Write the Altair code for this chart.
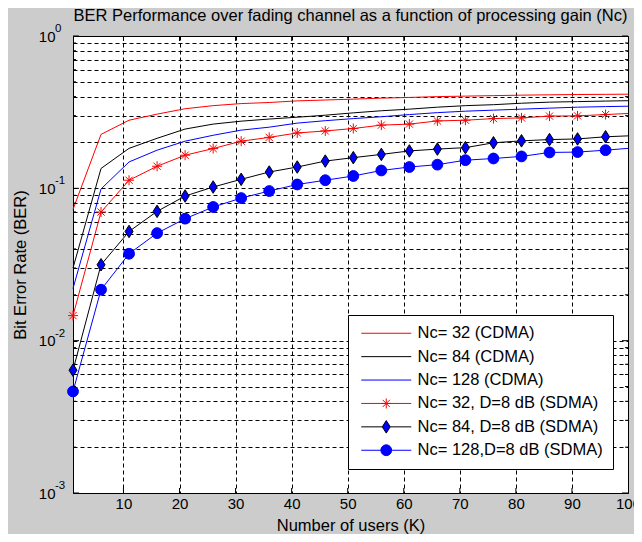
import altair as alt
import pandas as pd

# ---- data ----
K = [1, 6, 11, 16, 21, 26, 31, 36, 41, 46, 51, 56, 61, 66, 71, 76, 81, 86, 91, 96, 100]

series_names = [
    "Nc= 32 (CDMA)",
    "Nc= 84 (CDMA)",
    "Nc= 128 (CDMA)",
    "Nc= 32, D=8 dB (SDMA)",
    "Nc= 84, D=8 dB (SDMA)",
    "Nc= 128,D=8 dB (SDMA)",
]

ber_nc32_cdma = [0.0727, 0.226, 0.280, 0.307, 0.333, 0.349, 0.360, 0.366, 0.375, 0.380,
                 0.385, 0.391, 0.395, 0.400, 0.403, 0.406, 0.409, 0.411, 0.413, 0.414, 0.415]
ber_nc84_cdma = [0.030, 0.135, 0.183, 0.213, 0.245, 0.264, 0.276, 0.285, 0.293, 0.302,
                 0.313, 0.323, 0.331, 0.341, 0.349, 0.354, 0.362, 0.368, 0.371, 0.374, 0.376]
ber_nc128_cdma = [0.022, 0.099, 0.149, 0.178, 0.204, 0.223, 0.241, 0.252, 0.268, 0.278,
                  0.287, 0.295, 0.305, 0.314, 0.321, 0.326, 0.331, 0.336, 0.341, 0.344, 0.346]
ber_nc32_sdma = [0.0146, 0.0699, 0.113, 0.1396, 0.165, 0.1824, 0.204, 0.216, 0.231, 0.238,
                 0.247, 0.260, 0.264, 0.277, 0.280, 0.287, 0.290, 0.298, 0.299, 0.305, 0.310]
ber_nc84_sdma = [0.0064, 0.0315, 0.0521, 0.0706, 0.089, 0.102, 0.1146, 0.128, 0.138, 0.151,
                 0.159, 0.167, 0.176, 0.181, 0.185, 0.199, 0.205, 0.209, 0.211, 0.218, 0.221]
ber_nc128_sdma = [0.00464, 0.0216, 0.0372, 0.0508, 0.0632, 0.0754, 0.0863, 0.096, 0.106, 0.113,
                  0.1205, 0.131, 0.138, 0.143, 0.153, 0.157, 0.162, 0.172, 0.173, 0.178, 0.183]

all_series = [ber_nc32_cdma, ber_nc84_cdma, ber_nc128_cdma,
              ber_nc32_sdma, ber_nc84_sdma, ber_nc128_sdma]

line_colors = ["#ff0000", "#000000", "#0000ff", "#ff0000", "#000000", "#0000ff"]
legend_fills = ["transparent", "transparent", "transparent", "transparent", "#0000ff", "#0000ff"]

x_tick_values = [10, 20, 30, 40, 50, 60, 70, 80, 90, 100]
x_tick_marks = [10, 20, 30, 40, 50, 60, 70, 80, 90]
y_decades = [0.001, 0.01, 0.1, 1]
y_exponents = ["-3", "-2", "-1", "0"]
y_minor = [round(m * d, 6) for d in [0.001, 0.01, 0.1] for m in range(2, 10)]
y_grid = sorted(y_decades + y_minor)

# marker shapes (unit ~ 5px at size 100)
STAR = "M0,-1L0,1M-1,0L1,0M-0.72,-0.72L0.72,0.72M-0.72,0.72L0.72,-0.72"
DIAMOND = "M0,-1.25L0.8,0L0,1.25L-0.8,0Z"
CIRCLE = "M1.08,0A1.08,1.08,0,1,1,-1.08,0A1.08,1.08,0,1,1,1.08,0Z"
LINE = "M-5,0L5,0"
legend_paths = [
    LINE, LINE, LINE,
    LINE + STAR,
    "M-5,0L-0.8,0M0.8,0L5,0" + DIAMOND,
    "M-5,0L-1.08,0M1.08,0L5,0" + CIRCLE,
]

rows = []
for name, vals in zip(series_names, all_series):
    for k, v in zip(K, vals):
        rows.append({"K": k, "BER": v, "series": name})
df = pd.DataFrame(rows)

W, H = 555, 457
FONT = "Liberation Sans"

xscale = alt.Scale(domain=[1, 100], nice=False, zero=False)
yscale = alt.Scale(type="log", domain=[0.001, 1], nice=False)

x_axis = alt.Axis(
    values=x_tick_values, title="Number of users (K)", labelPadding=3,
    titlePadding=6, labelFontSize=15, labelFlush=False)
y_axis = alt.Axis(
    values=y_grid, labelExpr="indexof([0.001, 0.01, 0.1, 1], datum.value) >= 0 ? '10' : ''",
    title="Bit Error Rate (BER)", labelPadding=18, labelFontSize=15,
    labelOverlap=False, titlePadding=10)


def X(field):
    return alt.X(field, scale=xscale, axis=x_axis)


def Y(field):
    return alt.Y(field, scale=yscale, axis=y_axis)


base = alt.Chart(df)


def line(name, color):
    return base.transform_filter(alt.datum.series == name).mark_line(
        strokeWidth=1, color=color).encode(x=X("K:Q"), y=Y("BER:Q"))


def markers(name, **kw):
    return base.transform_filter(
        (alt.datum.series == name) & (alt.datum.K < 100)
    ).mark_point(size=100, opacity=1, strokeWidth=1, **kw).encode(
        x=X("K:Q"), y=Y("BER:Q"))


line_layers = [line(n, c) for n, c in zip(series_names, line_colors)]

m_star = markers(series_names[3], shape=STAR, filled=False, stroke="#ff0000")
m_diam = markers(series_names[4], shape=DIAMOND, filled=True, fill="#0000ff", stroke="#000000")
m_circ = markers(series_names[5], shape=CIRCLE, filled=True, fill="#0000ff", stroke="#0000ff")

leg = alt.Legend(
    title=None, orient="none", legendX=275, legendY=279,
    fillColor="white", strokeColor="black", padding=10, cornerRadius=0,
    symbolSize=100, symbolStrokeWidth=1, symbolOpacity=1,
    symbolFillColor="transparent", symbolStrokeColor="black",
    symbolOffset=20, labelOffset=23, labelFont=FONT, labelFontSize=16.5,
    labelColor="black", labelLimit=400, rowPadding=6.4,
)
legend_layer = base.mark_point(opacity=0).encode(
    x=X("K:Q"), y=Y("BER:Q"),
    shape=alt.Shape("series:N", scale=alt.Scale(domain=series_names, range=legend_paths), legend=leg),
    stroke=alt.Stroke("series:N", scale=alt.Scale(domain=series_names, range=line_colors), legend=leg),
    fill=alt.Fill("series:N", scale=alt.Scale(domain=series_names, range=legend_fills), legend=leg),
)

# inward tick marks (MATLAB style)
xt = alt.Chart(pd.DataFrame({"K": x_tick_marks}))
xt_bottom = xt.mark_rule(color="black", strokeWidth=1).encode(
    x=X("K:Q"), y=alt.value(H), y2=alt.value(H - 5))
xt_top = xt.mark_rule(color="black", strokeWidth=1).encode(
    x=X("K:Q"), y=alt.value(0), y2=alt.value(5))
yt_major = alt.Chart(pd.DataFrame({"BER": y_decades, "e": y_exponents}))
yt_minor = alt.Chart(pd.DataFrame({"BER": y_minor}))
ymaj_l = yt_major.mark_rule(color="black").encode(
    y=Y("BER:Q"), x=alt.value(0), x2=alt.value(6))
ymaj_r = yt_major.mark_rule(color="black").encode(
    y=Y("BER:Q"), x=alt.value(W - 6), x2=alt.value(W))
ymin_l = yt_minor.mark_rule(color="black").encode(
    y=Y("BER:Q"), x=alt.value(0), x2=alt.value(3))
ymin_r = yt_minor.mark_rule(color="black").encode(
    y=Y("BER:Q"), x=alt.value(W - 3), x2=alt.value(W))

# exponents of the y tick labels
exps = yt_major.mark_text(
    align="left", baseline="middle", font=FONT, fontSize=11.5, dy=-7, color="black"
).encode(y=Y("BER:Q"), x=alt.value(-18), text="e:N")

chart = alt.layer(
    *line_layers, m_star, m_diam, m_circ, legend_layer,
    xt_bottom, xt_top, ymaj_l, ymaj_r, ymin_l, ymin_r, exps,
).properties(
    width=W, height=H,
    autosize=alt.AutoSizeParams(type="none"),
    padding={"left": 65, "top": 28, "right": 6, "bottom": 41},
    title=alt.TitleParams(
        "BER Performance over fading channel as a function of processing gain (Nc)",
        font=FONT, fontSize=16.5, fontWeight="normal", color="black",
        anchor="middle", frame="group", offset=0, dy=1),
).configure(
    background="#cccccc",
).configure_view(
    fill="white", stroke="black", strokeWidth=1,
).configure_axis(
    labelFont=FONT, labelColor="black", titleFont=FONT, titleFontSize=16.5,
    titleFontWeight="normal", titleColor="black",
    grid=True, gridColor="black", gridDash=[4, 3], gridOpacity=1, gridWidth=1,
    domain=False, ticks=False, tickSize=0,
)

chart.save("out.html", embed_options={"renderer": "svg", "actions": False})
